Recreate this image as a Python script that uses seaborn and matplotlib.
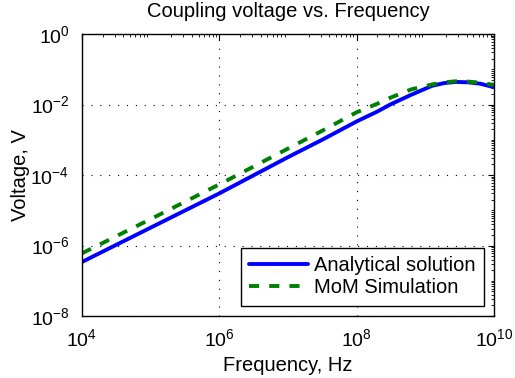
#!/usr/bin/env python

import matplotlib

matplotlib.use("Agg")
import matplotlib.pyplot as plt
import numpy as np
import pandas as pd
import seaborn as sns
from matplotlib.ticker import LogLocator, NullFormatter

# frequency samples (Hz)
freq = [1e4, 1e5, 1e6, 1e7, 3.16e7, 1e8, 2.0e8, 3.16e8, 6.3e8,
        1.26e9, 1.9e9, 2.8e9, 4.2e9, 6.3e9, 1e10]

# coupling voltage (V)
analytical = [3.4e-7, 3.2e-6, 3.0e-5, 3.2e-4, 1.0e-3, 3.3e-3, 6.3e-3,
              1.02e-2, 1.9e-2, 3.4e-2, 4.07e-2, 4.37e-2, 4.27e-2,
              3.9e-2, 3.1e-2]
mom = [6.0e-7, 5.6e-6, 5.4e-5, 5.6e-4, 1.8e-3, 6.0e-3, 1.05e-2,
       1.58e-2, 2.7e-2, 3.7e-2, 4.27e-2, 4.57e-2, 4.47e-2,
       4.17e-2, 3.6e-2]

labels = ["Analytical solution", "MoM Simulation"]


def main():
    sns.set_theme(style="white")
    plt.rcParams["font.family"] = ["Liberation Sans", "DejaVu Sans"]
    plt.rcParams["mathtext.fontset"] = "custom"
    plt.rcParams["mathtext.rm"] = "Liberation Sans"
    plt.rcParams["mathtext.it"] = "Liberation Sans"
    plt.rcParams["text.color"] = "black"
    plt.rcParams["axes.labelcolor"] = "black"

    df = pd.DataFrame({
        "freq": freq * 2,
        "volt": analytical + mom,
        "series": [labels[0]] * len(freq) + [labels[1]] * len(freq),
    })

    fig = plt.figure(figsize=(5.15, 3.78), dpi=100, facecolor="w")
    ax = fig.add_axes([0.159, 0.164, 0.800, 0.746])
    sns.lineplot(
        data=df, x="freq", y="volt", hue="series", style="series",
        palette={labels[0]: "#0000ff", labels[1]: "#008000"},
        dashes={labels[0]: "", labels[1]: (2.6, 2.6)},
        linewidth=2.8, ax=ax,
    )
    ax.set_xscale("log")
    ax.set_yscale("log")
    ax.set_xlim(1e4, 1e10)
    ax.set_ylim(1e-8, 1e0)
    ax.set_xticks([1e4, 1e6, 1e8, 1e10])
    ax.set_yticks([1e-8, 1e-6, 1e-4, 1e-2, 1e0])
    ax.xaxis.set_minor_locator(LogLocator(base=10, subs=np.arange(2, 10), numticks=20))
    ax.yaxis.set_minor_locator(LogLocator(base=10, subs=np.arange(1, 10) * 1.0, numticks=20))
    ax.xaxis.set_minor_formatter(NullFormatter())
    ax.yaxis.set_minor_formatter(NullFormatter())

    ax.tick_params(which="both", direction="in", top=True, right=True,
                   colors="black", labelsize=14)
    ax.tick_params(axis="x", which="major", pad=9)
    ax.tick_params(axis="y", which="major", pad=9)
    ax.tick_params(which="major", length=4, width=0.8)
    ax.tick_params(which="minor", length=2, width=0.6)
    for s in ax.spines.values():
        s.set_color("black")
        s.set_linewidth(1.0)

    ax.grid(True, which="major", linestyle=(0, (1, 7)), color="black", linewidth=0.8)
    ax.grid(False, which="minor")

    ax.set_xlabel("Frequency, Hz", fontsize=14.5, labelpad=4)
    ax.set_ylabel("Voltage, V", fontsize=14.5, labelpad=0)
    ax.set_title("Coupling voltage vs. Frequency", fontsize=14.5, pad=12)

    leg = ax.legend(loc="lower right", fontsize=14.5, handlelength=2.9,
                    fancybox=False, framealpha=1, edgecolor="black",
                    borderpad=0.42, labelspacing=0.15, handletextpad=0.3,
                    borderaxespad=0.5)
    leg.get_frame().set_linewidth(1.0)
    leg.set_title(None)

    plt.savefig("out.png", dpi=100)


if __name__ == "__main__":
    main()
